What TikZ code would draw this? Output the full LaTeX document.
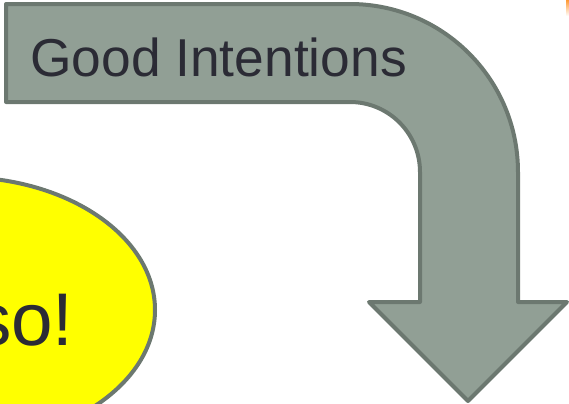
\documentclass[tikz,border=0pt]{standalone}
\usepackage{fontspec}
\setmainfont{Liberation Sans}
\usepackage{tikz}
\definecolor{arrowfill}{HTML}{919F95}
\definecolor{arrowline}{HTML}{6C7870}
\definecolor{textdark}{HTML}{2B2B35}
\definecolor{bubblefill}{RGB}{255,255,0}
\begin{document}
\begin{tikzpicture}[x=0.75pt, y=-0.75pt,
		bentarrow/.style={fill=arrowfill, draw=arrowline, line width=3pt, line join=round},
		bubble/.style={fill=bubblefill, draw=arrowline, line width=3pt}]
		%Frame
		\useasboundingbox (0,0) rectangle (569,404);
		\clip (0,0) rectangle (569,404);
		
		%Bubble
		\draw[bubble] (-40,310) ellipse [x radius=146.25pt, y radius=99.75pt];
		\node[anchor=base east, inner sep=0pt, text=textdark, font=\fontsize{56}{64}\selectfont] (cry) at (74,345) {so!};
		
		%Arrow
		\draw[bentarrow] (6,4) -- (350,4) arc [start angle=90, end angle=0, radius=126pt]
			-- (518,302) -- (567,302) -- (468,401) -- (369,302) -- (420,302) -- (420,172)
			arc [start angle=0, end angle=90, radius=52.5pt] -- (6,102) -- cycle;
		\node[anchor=base west, inner sep=0pt, text=textdark, font=\fontsize{40}{48}\selectfont] (label) at (30,76) {Good Intentions};
		
		%Corner
		\shade[top color=orange!80, bottom color=white] (566,0) rectangle (569,16);
	\end{tikzpicture}
\end{document}
